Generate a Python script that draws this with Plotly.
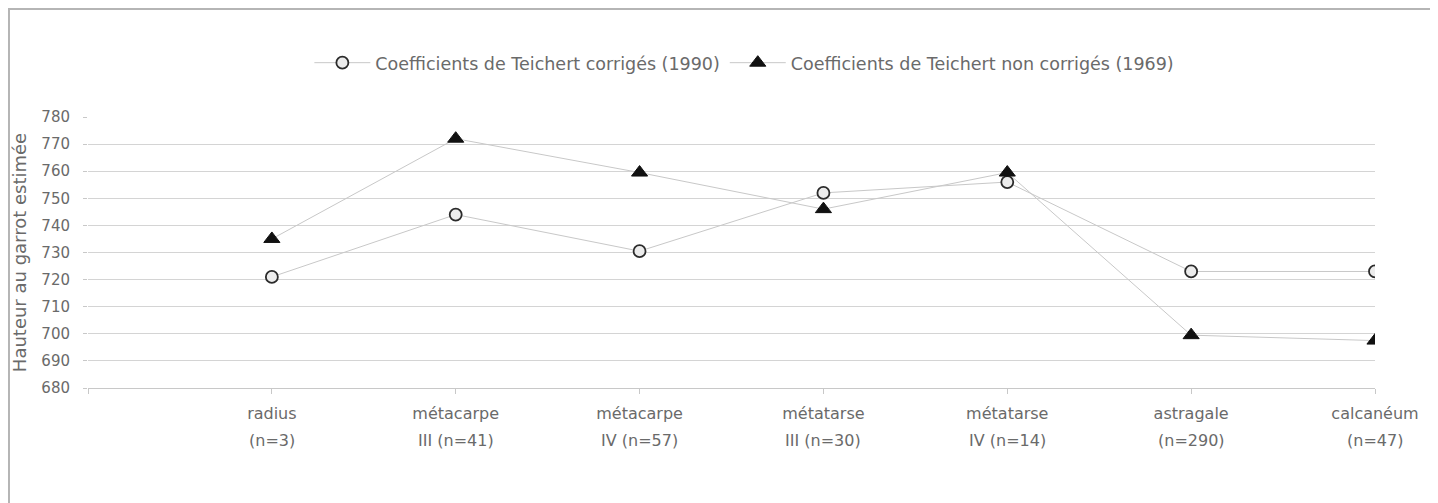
import plotly.graph_objects as go

# catégories (axe x) et valeurs
categories = ["radius", "métacarpe", "métacarpe", "métatarse", "métatarse", "astragale", "calcanéum"]
effectifs = ["(n=3)", "III (n=41)", "IV (n=57)", "III (n=30)", "IV (n=14)", "(n=290)", "(n=47)"]
corriges_1990 = [721, 744, 730.5, 752, 756, 723, 723]
non_corriges_1969 = [735, 772, 759.5, 746, 759.5, 699.5, 697.5]

gris_texte = "#6a6a6a"
police = "DejaVu Sans, Verdana, sans-serif"

# positions 1..n, la position 0 reste vide comme dans l'original
x_pos = list(range(1, len(categories) + 1))

fig = go.Figure()

fig.add_trace(go.Scatter(
    x=x_pos, y=corriges_1990,
    mode="lines+markers",
    name="Coefficients de Teichert corrigés (1990)",
    line=dict(color="#c8c8c8", width=1),
    marker=dict(symbol="circle", size=12, color="#ececec",
                line=dict(color="#2b2b2b", width=1.8)),
))

fig.add_trace(go.Scatter(
    x=x_pos, y=non_corriges_1969,
    mode="lines+markers",
    name="Coefficients de Teichert non corrigés (1969)",
    line=dict(color="#c8c8c8", width=1),
    marker=dict(symbol="triangle-up", size=14, color="#111111",
                line=dict(color="#111111", width=1)),
))

# deuxième ligne des étiquettes de l'axe x
for xp, txt in zip(x_pos, effectifs):
    fig.add_annotation(x=xp, y=-0.192, xref="x", yref="paper", text=txt,
                       showarrow=False, yanchor="middle",
                       font=dict(size=16, color=gris_texte, family=police))

# cadre extérieur
fig.add_shape(type="rect", xref="paper", yref="paper",
              x0=-0.0614, x1=1.0443, y0=-0.443, y1=1.3985,
              line=dict(color="#b5b5b5", width=2), layer="below")

fig.update_layout(
    width=1430, height=495,
    margin=dict(l=80, r=63, t=109, b=115),
    paper_bgcolor="white", plot_bgcolor="white",
    font=dict(family=police, size=16, color=gris_texte),
    showlegend=True,
    legend=dict(orientation="h", x=0.51, xanchor="center", y=1.2, yanchor="middle",
                itemwidth=56, font=dict(size=17.5, color=gris_texte)),
    xaxis=dict(
        range=[0, len(categories)],
        tickmode="array",
        tickvals=[0] + x_pos,
        ticktext=[""] + categories,
        showgrid=False, zeroline=False,
        showline=True, linecolor="#c8c8c8", linewidth=1,
        ticks="outside", ticklen=5, tickcolor="#c8c8c8",
        tickfont=dict(size=16, color=gris_texte),
        ticklabelstandoff=6,
    ),
    yaxis=dict(
        range=[680, 780],
        dtick=10,
        showgrid=True, gridcolor="#d4d4d4", gridwidth=1,
        zeroline=False, showline=False,
        ticks="outside", ticklen=4, tickcolor="#c8c8c8",
        tickfont=dict(size=15, color=gris_texte),
        ticklabelstandoff=10,
        title=dict(text="Hauteur au garrot estimée", font=dict(size=18, color=gris_texte),
                   standoff=10),
    ),
)

fig.write_html("out.html")
